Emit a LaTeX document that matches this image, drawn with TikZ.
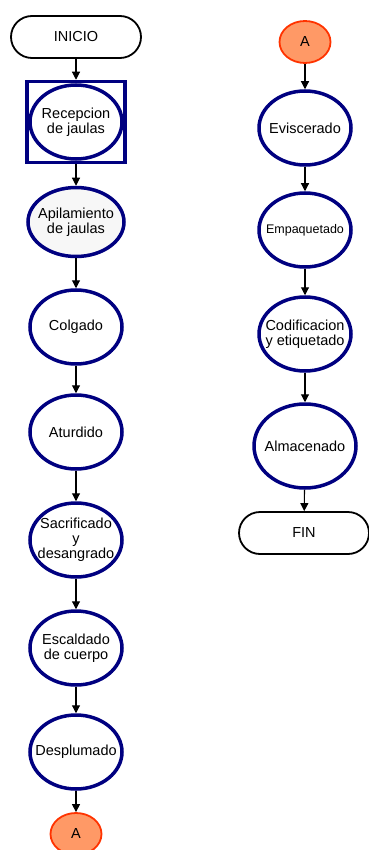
\documentclass[tikz,border=0pt]{standalone}
\usepackage{fontspec}
\setmainfont{Liberation Sans}
\usetikzlibrary{shapes.geometric,arrows.meta}
\definecolor{navyb}{HTML}{000080}
\definecolor{connfill}{HTML}{FF9966}
\definecolor{connline}{HTML}{FF3300}
\begin{document}
\begin{tikzpicture}[x=1pt,y=-1pt,
  txt/.style={font=\fontsize{14.5}{14.8}\selectfont},
  proc/.style={ellipse,draw=navyb,line width=3.5pt,fill=white,minimum width=92pt,minimum height=74pt,inner sep=-14pt,align=center,txt},
  term/.style={rectangle,rounded corners=21pt,draw=black,line width=1.8pt,fill=white,minimum width=130pt,minimum height=42pt,txt},
  connector/.style={ellipse,draw=connline,line width=1.8pt,fill=connfill,minimum width=51pt,minimum height=42pt,inner sep=0pt,txt},
  arr/.style={draw=black,line width=1.1pt,-{Triangle[width=8pt,length=8pt]}}]
\useasboundingbox (0,0) rectangle (368,850);
% left column
\node[term] (inicio) at (76,37) {INICIO};
\node[rectangle,draw=navyb,line width=3.5pt,minimum width=98pt,minimum height=81pt] (recbox) at (76,122) {};
\node[proc,minimum width=92pt,minimum height=74pt] (recep) at (76,122) {Recepcion\\de jaulas};
\node[proc,fill=gray!6,minimum width=96pt,minimum height=69pt] (apil) at (76,222) {Apilamiento\\de jaulas};
\node[proc] (colg) at (76,327) {Colgado};
\node[proc] (aturd) at (76,432) {Aturdido};
\node[proc] (sacri) at (76,540) {Sacrificado\\y\\desangrado};
\node[proc] (escal) at (76,648) {Escaldado\\de cuerpo};
\node[proc] (despl) at (76,752) {Desplumado};
\node[connector] (a1) at (76,834) {A};
% right column
\node[connector] (a2) at (305,42) {A};
\node[proc] (evisc) at (305,128) {Eviscerado};
\node[proc,font=\fontsize{12.5}{13}\selectfont] (empaq) at (305,230) {Empaquetado};
\node[proc] (codif) at (305,334) {Codificacion\\y etiquetado};
\node[proc,minimum width=102pt,minimum height=84pt] (almac) at (305,446) {Almacenado};
\node[term] (fin) at (304,533) {FIN};
% connectors
\draw[arr] (inicio) -- (recbox);
\draw[arr] (recbox) -- (apil);
\draw[arr] (apil) -- (colg);
\draw[arr] (colg) -- (aturd);
\draw[arr] (aturd) -- (sacri);
\draw[arr] (sacri) -- (escal);
\draw[arr] (escal) -- (despl);
\draw[arr] (despl) -- (a1);
\draw[arr] (a2) -- (evisc);
\draw[arr] (evisc) -- (empaq);
\draw[arr] (empaq) -- (codif);
\draw[arr] (codif) -- (almac);
\draw[arr] (almac) -- (fin);
\end{tikzpicture}
\end{document}
